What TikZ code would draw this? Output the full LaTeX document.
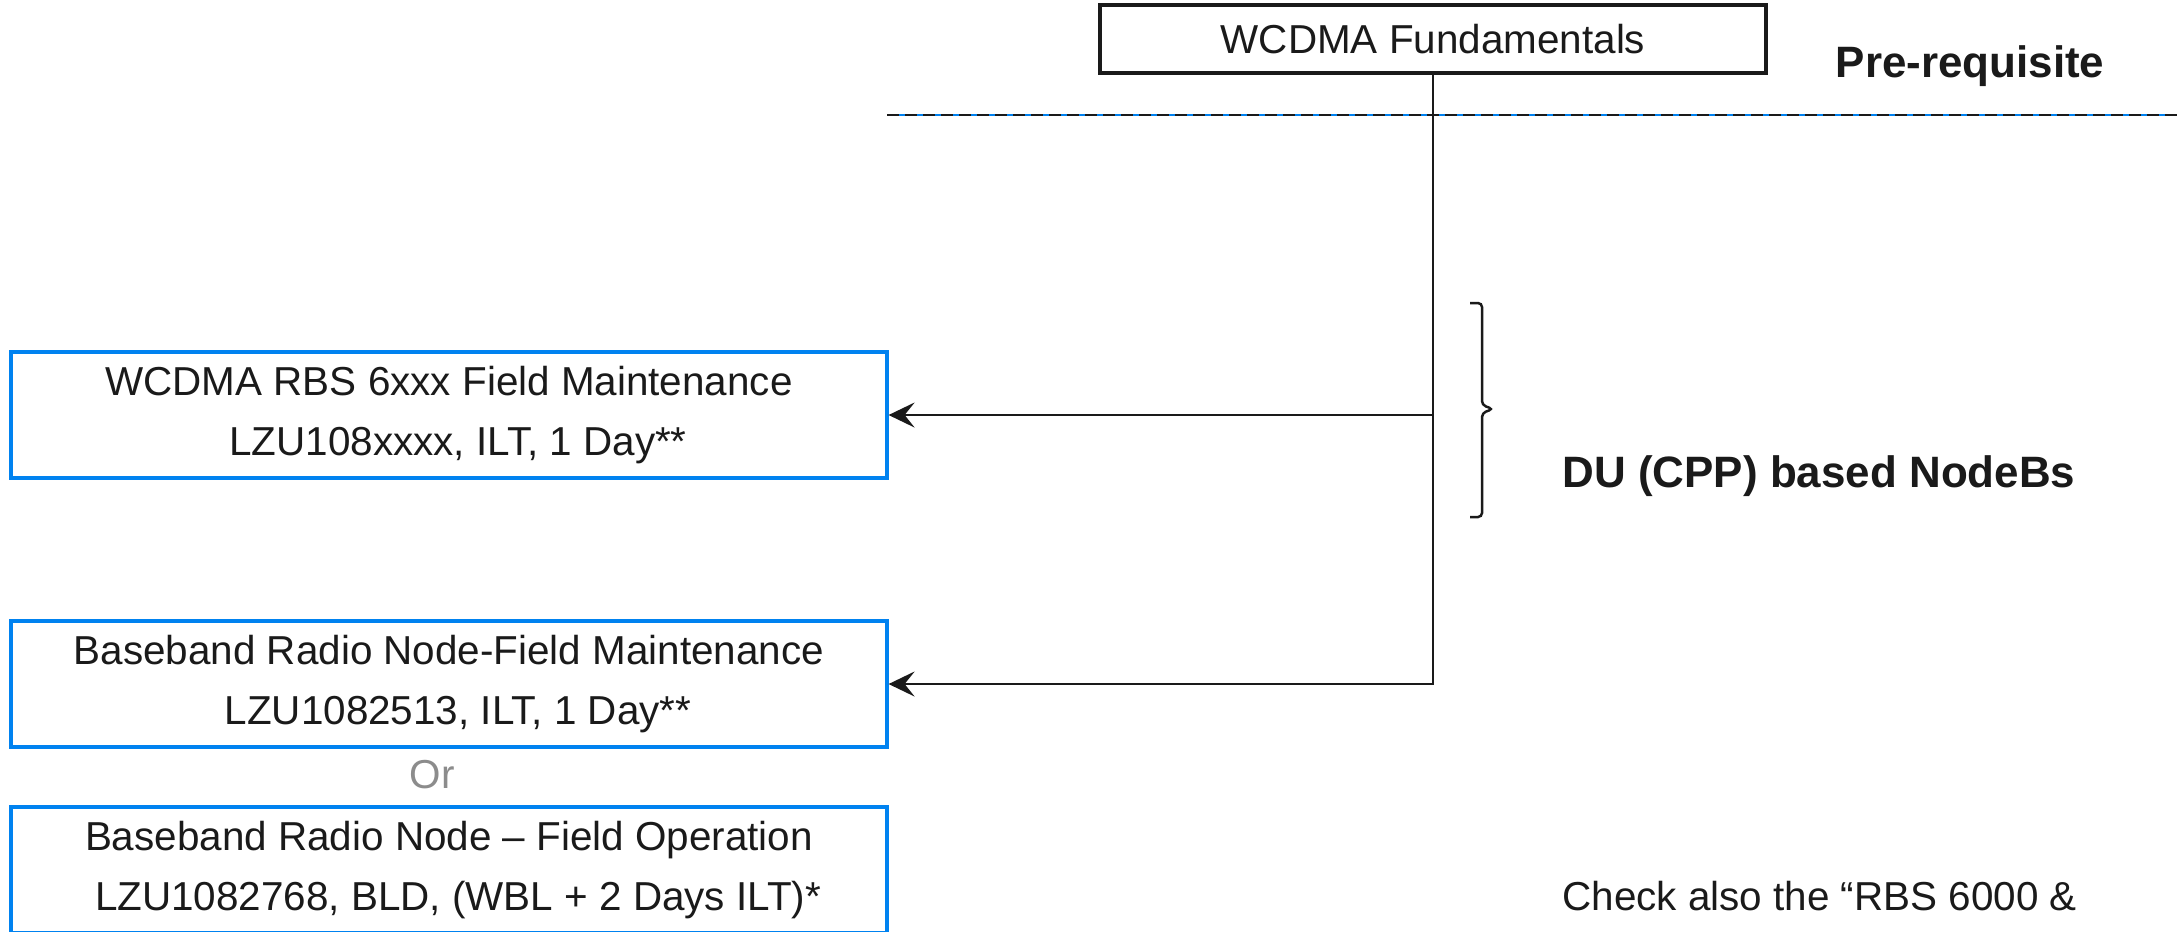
\documentclass[tikz,border=0pt]{standalone}
\usepackage{fontspec}
\setmainfont{Liberation Sans}
\usetikzlibrary{arrows.meta}
\definecolor{courseblue}{RGB}{0,130,240}
\definecolor{orgray}{RGB}{140,140,140}
\definecolor{inkblack}{RGB}{26,26,26}

\begin{document}
\begin{tikzpicture}[
    every node/.style={font=\fontsize{11.5}{17}\selectfont, text=inkblack},
    course/.style={draw=courseblue, line width=0.9pt, minimum width=8.76cm,
      minimum height=1.26cm, align=center, inner sep=0pt},
    prebox/.style={draw=inkblack, line width=0.9pt, minimum width=6.66cm,
      minimum height=0.68cm, inner sep=0pt},
    headtext/.style={font=\fontsize{12.5}{15}\selectfont\bfseries},
    link/.style={draw=inkblack, line width=0.7pt,
      -{Stealth[length=2.6mm,width=2.5mm,inset=1mm]}}
  ]
      \useasboundingbox (0,0) rectangle (21.77,-9.31);
      \clip (0,0) rectangle (21.77,-9.31);
      % prerequisite
      \node[prebox] (fund) at (14.33,-0.39) {WCDMA Fundamentals};
      \node[headtext] (prereq) at (19.70,-0.66) {Pre-requisite};
      \draw[courseblue, line width=0.4pt] (8.87,-1.15) -- (21.77,-1.15);
      \draw[inkblack, line width=0.7pt, dash pattern=on 0.12cm off 0.06cm]
        (8.87,-1.15) -- (21.77,-1.15);
      % courses
      \node[course] (rbs) at (4.49,-4.15)
        {WCDMA RBS 6xxx Field Maintenance\\ \hspace*{0.18cm}LZU108xxxx, ILT, 1 Day**};
      \node[course] (bbm) at (4.49,-6.84)
        {Baseband Radio Node-Field Maintenance\\ \hspace*{0.18cm}LZU1082513, ILT, 1 Day**};
      \node[text=orgray] (or) at (4.32,-7.75) {Or};
      \node[course] (bbo) at (4.49,-8.70)
        {Baseband Radio Node -- Field Operation\\ \hspace*{0.18cm}LZU1082768, BLD, (WBL + 2 Days ILT)*};
      % nodeb group
      \draw[inkblack, line width=0.7pt, rounded corners=0.04cm]
        (14.70,-3.03) -- (14.82,-3.03) -- (14.82,-4.05) -- (14.93,-4.09)
        -- (14.82,-4.13) -- (14.82,-5.17) -- (14.70,-5.17);
      \node[headtext] (du) at (18.19,-4.76) {DU (CPP) based NodeBs};
      \node[anchor=west] (check) at (15.50,-8.96) {Check also the “RBS 6000 \&};
      \begin{scope}[link]
        \draw (fund.south) |- (rbs.east);
        \draw (fund.south) |- (bbm.east);
      \end{scope}
    \end{tikzpicture}
\end{document}
